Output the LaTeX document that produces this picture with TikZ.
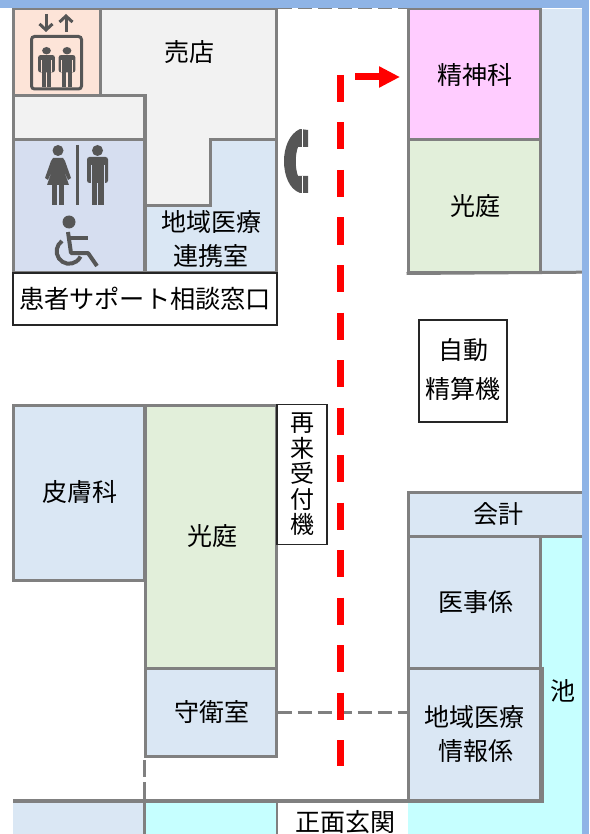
\documentclass[tikz,border=0pt]{standalone}
\usepackage{fontspec}
\setmainfont{Noto Sans CJK JP}
\usetikzlibrary{arrows.meta}

\definecolor{wallgray}{HTML}{808080}
\definecolor{icongray}{HTML}{565656}
\definecolor{frameblue}{HTML}{8FB4E6}
\definecolor{roomblue}{HTML}{DAE7F4}
\definecolor{toiletblue}{HTML}{D6DEF0}
\definecolor{roomgreen}{HTML}{E2EFDA}
\definecolor{roompink}{HTML}{FFCCFF}
\definecolor{roompeach}{HTML}{FDE4D8}
\definecolor{roomgray}{HTML}{F2F2F2}
\definecolor{pondcyan}{HTML}{C6FFFF}

\tikzset{
  room/.style={draw=wallgray, line width=3pt, inner sep=0pt, align=center,
    font=\fontsize{25}{33.5}\selectfont},
  label/.style={inner sep=0pt, align=center, font=\fontsize{25}{33.5}\selectfont},
  signbox/.style={draw=black!85, line width=1.5pt, fill=white, inner sep=0pt, align=center,
    font=\fontsize{25}{39}\selectfont},
  wall/.style={draw=wallgray, line width=3pt},
  heavywall/.style={draw=wallgray, line width=4pt},
  thinwall/.style={draw=wallgray, line width=2pt},
  doorline/.style={draw=wallgray, line width=3pt, dash pattern=on 14pt off 6pt},
  route/.style={draw=red, line width=7pt},
  icon/.style={fill=icongray, draw=none}
}

% head at the top, feet 60 below
\newcommand{\manicon}[4]{
  \begin{scope}[shift={(#1,#2)}, #3]
    \fill[icon] (0,5.5) circle (5.5);
    \fill[icon, rounded corners=2.5] (-10.5,12) rectangle (10.5,38);
    \fill[icon] (-6,30) rectangle (-.8,60);
    \fill[icon] (.8,30) rectangle (6,60);
    \draw[#4, line width=1pt] (-6.5,20) -- (-6.5,38);
    \draw[#4, line width=1pt] (6.5,20) -- (6.5,38);
  \end{scope}
}
\newcommand{\ladyicon}[2]{
  \begin{scope}[shift={(#1,#2)}]
    \fill[icon] (0,5.5) circle (5.5);
    \fill[icon] (-5,13) -- (5,13) -- (7,16) -- (13,33) -- (10,35) -- (5,23) -- (11,40)
      -- (-11,40) -- (-5,23) -- (-10,35) -- (-13,33) -- (-7,16) -- cycle;
    \fill[icon] (-6,38) rectangle (-1,60);
    \fill[icon] (1,38) rectangle (6,60);
  \end{scope}
}

\begin{document}
\begin{tikzpicture}[x=1pt, y=-1pt]
  \useasboundingbox (0,0) rectangle (589,834);
  \clip (0,0) rectangle (589,834);

  % pond under the rooms
  \fill[pondcyan] (541,536) rectangle (583,834);
  \fill[pondcyan] (408,802) rectangle (583,834);
  \fill[pondcyan] (146,802) rectangle (276,834);
  \fill[roomblue] (13,802) rectangle (143,834);

  % shop and the room cut into it
  \draw[wall, fill=roomgray, line join=miter] (100,9) -- (276,9) -- (276,140) -- (210,140)
    -- (210,206) -- (145,206) -- (145,96) -- (100,96) -- cycle;
  \draw[wall, fill=roomblue] (145,206) -- (210,206) -- (210,140) -- (276,140)
    -- (276,272) -- (145,272) -- cycle;

  \begin{scope}[every node/.style={room}]
    \node[fill=roompeach, minimum width=87, minimum height=87]  (lift)     at (56.5,52.5) {};
    \node[fill=roomgray, minimum width=131, minimum height=44]  (hall)     at (78.5,118)  {};
    \node[fill=toiletblue, minimum width=131, minimum height=132] (toilet) at (78.5,206)  {};
    \node[fill=roompink, minimum width=132, minimum height=131] (psych)    at (474,74.5)  {\kern2pt 精神科};
    \node[fill=roomgreen, minimum width=132, minimum height=132] (courtb)  at (474,206)   {\kern3pt 光庭};
    \node[fill=roomblue, minimum width=131, minimum height=175] (derma)    at (78.5,492.5) {\kern2pt 皮膚科};
    \node[fill=roomgreen, minimum width=131, minimum height=263] (courta)  at (210.5,536.5) {\kern4pt 光庭};
    \node[fill=roomblue, minimum width=131, minimum height=88]  (guard)    at (210.5,712) {\kern2pt 守衛室};
    \node[fill=roomblue, minimum width=176, minimum height=44]  (cashier)  at (496,514)   {\kern4pt 会計};
    \node[fill=roomblue, minimum width=132, minimum height=132] (medical)  at (474,602)   {\kern3pt 医事係};
    \node[fill=roomblue, minimum width=132, minimum height=132] (info)     at (474,734)   {地域医療\\\kern3pt 情報係};
  \end{scope}

  \begin{scope}[every node/.style={label}]
    \node (shoplabel) at (189,52)  {売店};
    \node (linklabel) at (211,239) {地域医療\\連携室};
    \node (pondlabel) at (563,691) {池};
    \node (entrance)  at (345,822) {正面玄関};
  \end{scope}

  \node[fill=roomblue, inner sep=0pt, minimum width=41, minimum height=263] (strip) at (562,140.5) {};

  \begin{scope}[every node/.style={signbox}]
    \node[minimum width=264, minimum height=52, font=\fontsize{25.2}{33}\selectfont] (support) at (145,299) {患者サポート相談窓口};
    \node[minimum width=88, minimum height=102] (payment) at (463,371) {};
    \node[draw=none, fill=none] (paymentlabel) at (463,369) {自動\\精算機};
    \node[minimum width=50, minimum height=140, font=\fontsize{24}{25.5}\selectfont] (reception) at (302,474.5) {再\\来\\受\\付\\機};
  \end{scope}

  \draw[wall] (courtb.south west) -- (strip.south east);
  \draw[heavywall] (13,801) -- (544,801);
  \draw[heavywall] (info.north east) -- (info.south east);
  \draw[wall] (144,801) -- (144,834);
  \draw[thinwall] (277,801) -- (277,834);

  % dashed openings
  \coordinate (topleft)   at (278,8);
  \coordinate (topright)  at (408,8);
  \coordinate (doorwayn)  at (144,760);
  \coordinate (doorways)  at (144,799);
  \path[draw=wallgray, line width=2pt, dash pattern=on 14pt off 6pt] (topleft) -- (topright);
  \path[doorline] (guard.east) -- (guard.east -| info.west);
  \path[draw=wallgray, line width=3pt, dash pattern=on 17pt off 5pt] (doorwayn) -- (doorways);

  % route
  \coordinate (routestart) at (340,75);
  \coordinate (routeend)   at (340,766);
  \coordinate (arrowstart) at (355,77);
  \coordinate (arrowend)   at (400,77);
  \path[route, dash pattern=on 27pt off 20.5pt] (routestart) -- (routeend);
  \path[route, -{Triangle[length=21pt, width=20pt]}] (arrowstart) -- (arrowend);

  % lift icon
  \draw[icongray, line width=3pt, rounded corners=3pt] (31.5,36.5) rectangle (81.5,89);
  \draw[icongray, line width=3pt, -{Straight Barb[length=6pt, width=13pt]}] (46,14) -- (46,32);
  \draw[icongray, line width=3pt, -{Straight Barb[length=6pt, width=13pt]}] (66,32) -- (66,14);
  \manicon{46.5}{47}{xscale=.8,yscale=.67}{roompeach}
  \manicon{67}{47}{xscale=.8,yscale=.67}{roompeach}

  % toilet icons
  \ladyicon{58}{145}
  \draw[icongray, line width=3pt] (77.5,145) -- (77.5,205);
  \manicon{97.5}{145}{scale=1}{toiletblue}

  % wheelchair
  \fill[icon] (69,222) circle (6.5);
  \draw[icongray, line width=4pt, line join=round] (68,232) -- (71,253) -- (88,253) -- (97,266);
  \draw[icongray, line width=4pt] (70,238) -- (88,238);
  \draw[icongray, line width=4pt] (62,241) arc[start angle=235, end angle=25, radius=12.5];

  % phone
  \fill[icon] (300,129) .. controls (289,134) and (284,148) .. (284,161)
    .. controls (284,175) and (289,189) .. (300,193) -- (308,193) -- (308,176) -- (298,176)
    .. controls (295,168) and (295,155) .. (298,147) -- (308,147) -- (308,130) -- cycle;
  \draw[white, line width=1pt] (302,129) -- (302,147);
  \draw[white, line width=1pt] (302,176) -- (302,193);

  % slide frame
  \fill[frameblue] (0,0) rectangle (589,8);
  \fill[frameblue] (582,0) rectangle (589,834);

\end{tikzpicture}
\end{document}
